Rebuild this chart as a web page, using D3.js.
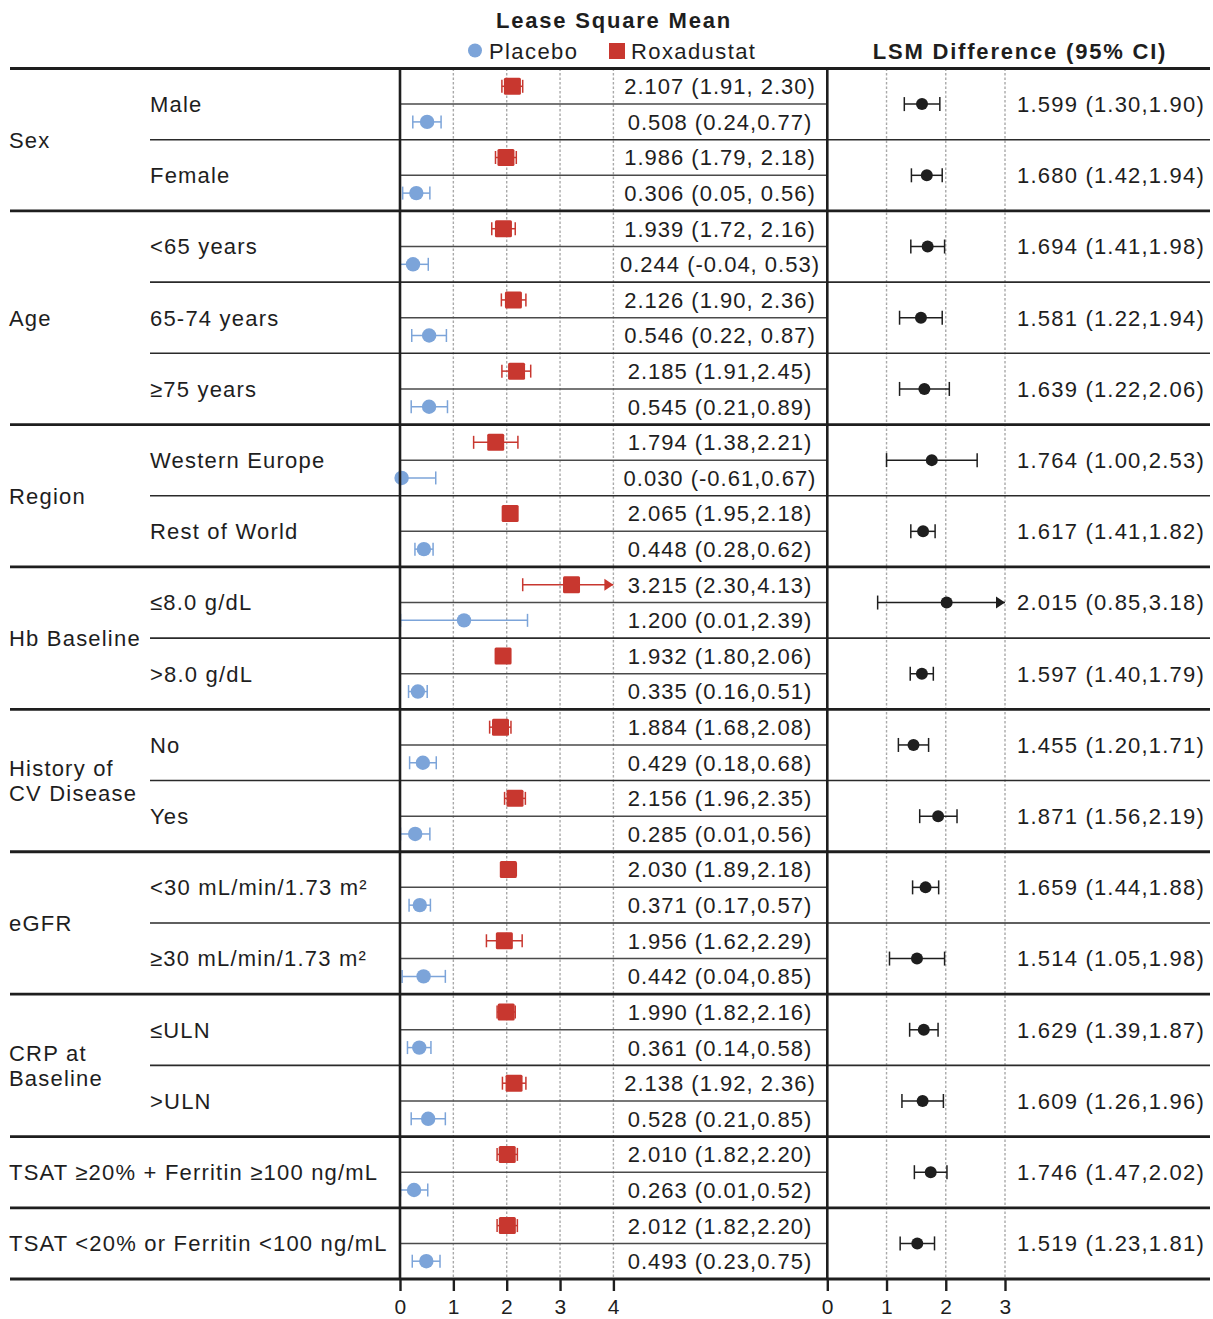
<!DOCTYPE html>
<html>
<head>
<meta charset="utf-8">
<script src="https://cdn.jsdelivr.net/npm/d3@7"></script>
<style>
  html, body { margin: 0; padding: 0; background: #fff; }
  svg { display: block; font-family: "Liberation Sans", Arial, Helvetica, sans-serif; }
</style>
</head>
<body>
<svg id="chart" width="1213" height="1319"></svg>
<script>
// ---- Subgroup definitions ----
const groups = ["Sex", "Age", "Region", "Hb Baseline", "History of\nCV Disease", "eGFR",
  "CRP at\nBaseline", "TSAT ≥20% + Ferritin ≥100 ng/mL", "TSAT <20% or Ferritin <100 ng/mL"];
const subgroups = ["Male", "Female", "<65 years", "65-74 years", "≥75 years", "Western Europe",
  "Rest of World", "≤8.0 g/dL", ">8.0 g/dL", "No", "Yes", "<30 mL/min/1.73 m²",
  "≥30 mL/min/1.73 m²", "≤ULN", ">ULN", "", ""];
const subgroupGroup = [0, 0, 1, 1, 1, 2, 2, 3, 3, 4, 4, 5, 5, 6, 6, 7, 8];

// ---- Least square means, Roxadustat ----
const roxMean = [2.107, 1.986, 1.939, 2.126, 2.185, 1.794, 2.065, 3.215, 1.932, 1.884, 2.156, 2.030, 1.956, 1.990, 2.138, 2.010, 2.012];
const roxLow  = [1.91, 1.79, 1.72, 1.90, 1.91, 1.38, 1.95, 2.30, 1.80, 1.68, 1.96, 1.89, 1.62, 1.82, 1.92, 1.82, 1.82];
const roxHigh = [2.30, 2.18, 2.16, 2.36, 2.45, 2.21, 2.18, 4.13, 2.06, 2.08, 2.35, 2.18, 2.29, 2.16, 2.36, 2.20, 2.20];
const roxSep  = [", ", ", ", ", ", ", ", ",", ",", ",", ",", ",", ",", ",", ",", ",", ",", ", ", ",", ","];

// ---- Least square means, Placebo ----
const plaMean = [0.508, 0.306, 0.244, 0.546, 0.545, 0.030, 0.448, 1.200, 0.335, 0.429, 0.285, 0.371, 0.442, 0.361, 0.528, 0.263, 0.493];
const plaLow  = [0.24, 0.05, -0.04, 0.22, 0.21, -0.61, 0.28, 0.01, 0.16, 0.18, 0.01, 0.17, 0.04, 0.14, 0.21, 0.01, 0.23];
const plaHigh = [0.77, 0.56, 0.53, 0.87, 0.89, 0.67, 0.62, 2.39, 0.51, 0.68, 0.56, 0.57, 0.85, 0.58, 0.85, 0.52, 0.75];
const plaSep  = [",", ", ", ", ", ", ", ",", ",", ",", ",", ",", ",", ",", ",", ",", ",", ",", ",", ","];

// ---- LSM difference (95% CI) ----
const diffMean = [1.599, 1.680, 1.694, 1.581, 1.639, 1.764, 1.617, 2.015, 1.597, 1.455, 1.871, 1.659, 1.514, 1.629, 1.609, 1.746, 1.519];
const diffLow  = [1.30, 1.42, 1.41, 1.22, 1.22, 1.00, 1.41, 0.85, 1.40, 1.20, 1.56, 1.44, 1.05, 1.39, 1.26, 1.47, 1.23];
const diffHigh = [1.90, 1.94, 1.98, 1.94, 2.06, 2.53, 1.82, 3.18, 1.79, 1.71, 2.19, 1.88, 1.98, 1.87, 1.96, 2.02, 1.81];

const leftTicks = [0, 1, 2, 3, 4];
const rightTicks = [0, 1, 2, 3];

// ---- Layout ----
const RED = "#c8372f", BLUE = "#7ca4d9", INK = "#1e1e1e";
const svg = d3.select("#chart");
const nRows = subgroups.length * 2;
const yTop = 68.5, yBottom = 1279;
const yRow = d3.scaleLinear().domain([0, nRows]).range([yTop, yBottom]);
const xL = d3.scaleLinear().domain([0, 4]).range([400, 613.4]);
const xR = d3.scaleLinear().domain([0, 3]).range([827.3, 1005]);
const fullL = 10, fullR = 1210, subL = 150;

const fmt = (v, d) => v.toFixed(d);
const ciText = (m, lo, hi, sep) => `${fmt(m, 3)} (${fmt(lo, 2)}${sep}${fmt(hi, 2)})`;

// group extents in rows
const groupRows = groups.map((g, gi) => {
  const idx = subgroupGroup.map((v, i) => v === gi ? i : -1).filter(i => i >= 0);
  return { start: d3.min(idx) * 2, end: (d3.max(idx) + 1) * 2 };
});

// ---- Dashed reference lines ----
const grid = svg.append("g").attr("stroke", "#a9a9a9").attr("stroke-width", 1.4).attr("stroke-dasharray", "2.5,2");
grid.selectAll(".gl").data(leftTicks.filter(t => t > 0)).join("line")
  .attr("x1", d => xL(d)).attr("x2", d => xL(d)).attr("y1", yTop).attr("y2", yBottom);
grid.selectAll(".gr").data(rightTicks.filter(t => t > 0)).join("line")
  .attr("x1", d => xR(d)).attr("x2", d => xR(d)).attr("y1", yTop).attr("y2", yBottom);

// ---- Horizontal rules ----
const rules = svg.append("g");
// between Roxadustat and Placebo rows (left panel)
rules.selectAll(".pair").data(subgroups).join("line")
  .attr("x1", xL(0)).attr("x2", xR(0))
  .attr("y1", (d, i) => yRow(i * 2 + 1)).attr("y2", (d, i) => yRow(i * 2 + 1))
  .attr("stroke", "#4a4a4a").attr("stroke-width", 1.5);
// between subgroups inside a group
const subBreaks = [];
subgroups.forEach((s, i) => {
  if (i > 0 && subgroupGroup[i] === subgroupGroup[i - 1]) subBreaks.push(i * 2);
});
rules.selectAll(".sub").data(subBreaks).join("line")
  .attr("x1", subL).attr("x2", fullR)
  .attr("y1", d => yRow(d)).attr("y2", d => yRow(d))
  .attr("stroke", "#2a2a2a").attr("stroke-width", 1.6);
// group boundaries
const groupBreaks = [0].concat(groupRows.map(g => g.end));
rules.selectAll(".grp").data(groupBreaks).join("line")
  .attr("x1", fullL).attr("x2", fullR)
  .attr("y1", d => yRow(d)).attr("y2", d => yRow(d))
  .attr("stroke", INK).attr("stroke-width", 2.8);

// ---- Interval drawing helper ----
function interval(g, x, y, m, lo, hi, color, capH) {
  const [d0, d1] = x.domain();
  const a = Math.max(lo, d0), b = Math.min(hi, d1);
  g.append("line").attr("x1", x(a)).attr("x2", x(b)).attr("y1", y).attr("y2", y)
    .attr("stroke", color).attr("stroke-width", 1.5);
  if (lo >= d0) g.append("line").attr("x1", x(lo)).attr("x2", x(lo)).attr("y1", y - capH).attr("y2", y + capH)
    .attr("stroke", color).attr("stroke-width", 1.5);
  if (hi <= d1) g.append("line").attr("x1", x(hi)).attr("x2", x(hi)).attr("y1", y - capH).attr("y2", y + capH)
    .attr("stroke", color).attr("stroke-width", 1.5);
  else g.append("path").attr("d", `M${x(d1) - 9},${y - 6}L${x(d1)},${y}L${x(d1) - 9},${y + 6}Z`).attr("fill", color);
}

// ---- Marks ----
const marks = svg.append("g");
subgroups.forEach((s, i) => {
  const yr = yRow(i * 2 + 0.5), yp = yRow(i * 2 + 1.5), yd = yRow(i * 2 + 1);
  interval(marks, xL, yr, roxMean[i], roxLow[i], roxHigh[i], RED, 6.5);
  marks.append("rect").attr("x", xL(roxMean[i]) - 8.5).attr("y", yr - 8.5)
    .attr("width", 17).attr("height", 17).attr("rx", 1.5).attr("fill", RED);
  interval(marks, xL, yp, plaMean[i], plaLow[i], plaHigh[i], BLUE, 6.5);
  marks.append("circle").attr("cx", xL(plaMean[i])).attr("cy", yp).attr("r", 7.2).attr("fill", BLUE);
  interval(marks, xR, yd, diffMean[i], diffLow[i], diffHigh[i], INK, 7);
  marks.append("circle").attr("cx", xR(diffMean[i])).attr("cy", yd).attr("r", 6).attr("fill", INK);
});

// ---- Panel borders and axes ----
const axisH = 12;
[xL, xR].forEach((x, k) => {
  svg.append("line").attr("x1", x(0)).attr("x2", x(0)).attr("y1", yTop - 1.5).attr("y2", yBottom)
    .attr("stroke", INK).attr("stroke-width", 2.6);
  const ax = svg.append("g").attr("transform", `translate(0,${yBottom})`)
    .call(d3.axisBottom(x).tickValues(k === 0 ? leftTicks : rightTicks).tickSize(axisH).tickPadding(8).tickFormat(d3.format("d")));
  ax.select(".domain").remove();
  ax.selectAll(".tick line").attr("stroke", INK).attr("stroke-width", 2.4);
  ax.selectAll(".tick text").attr("fill", INK).attr("font-size", 21).attr("letter-spacing", 0.5)
    .attr("font-family", "Liberation Sans, Arial, sans-serif");
});

// ---- Value texts ----
const txt = svg.append("g").attr("fill", INK).attr("font-size", 22).attr("letter-spacing", 1);
subgroups.forEach((s, i) => {
  txt.append("text").attr("x", 720).attr("y", yRow(i * 2 + 0.5)).attr("dy", "0.36em").attr("text-anchor", "middle")
    .text(ciText(roxMean[i], roxLow[i], roxHigh[i], roxSep[i]));
  txt.append("text").attr("x", 720).attr("y", yRow(i * 2 + 1.5)).attr("dy", "0.36em").attr("text-anchor", "middle")
    .text(ciText(plaMean[i], plaLow[i], plaHigh[i], plaSep[i]));
  txt.append("text").attr("x", 1111).attr("y", yRow(i * 2 + 1)).attr("dy", "0.36em").attr("text-anchor", "middle")
    .attr("letter-spacing", 1.2)
    .text(ciText(diffMean[i], diffLow[i], diffHigh[i], ","));
});

// ---- Row labels ----
const lab = svg.append("g").attr("fill", INK).attr("font-size", 22).attr("letter-spacing", 1.2);
groups.forEach((g, gi) => {
  const r = groupRows[gi];
  const cy = yRow((r.start + r.end) / 2);
  const lines = g.split("\n");
  lines.forEach((ln, li) => {
    lab.append("text").attr("x", 9).attr("y", cy + (li - (lines.length - 1) / 2) * 25).attr("dy", "0.36em").text(ln);
  });
});
subgroups.forEach((s, i) => {
  if (!s) return;
  lab.append("text").attr("x", 150).attr("y", yRow(i * 2 + 1)).attr("dy", "0.36em").text(s);
});

// ---- Headers and legend ----
const head = svg.append("g").attr("fill", INK).attr("font-size", 22);
head.append("text").attr("x", 614).attr("y", 28).attr("text-anchor", "middle")
  .attr("font-weight", "bold").attr("letter-spacing", 1.8).text("Lease Square Mean");
head.append("text").attr("x", 1020).attr("y", 59).attr("text-anchor", "middle")
  .attr("font-weight", "bold").attr("letter-spacing", 1.8).text("LSM Difference (95% CI)");
head.append("circle").attr("cx", 475).attr("cy", 50.5).attr("r", 7).attr("fill", BLUE);
head.append("text").attr("x", 489).attr("y", 59).attr("letter-spacing", 1.4).text("Placebo");
head.append("rect").attr("x", 609).attr("y", 43).attr("width", 16).attr("height", 16).attr("fill", RED);
head.append("text").attr("x", 631).attr("y", 59).attr("letter-spacing", 1.4).text("Roxadustat");
</script>
</body>
</html>
